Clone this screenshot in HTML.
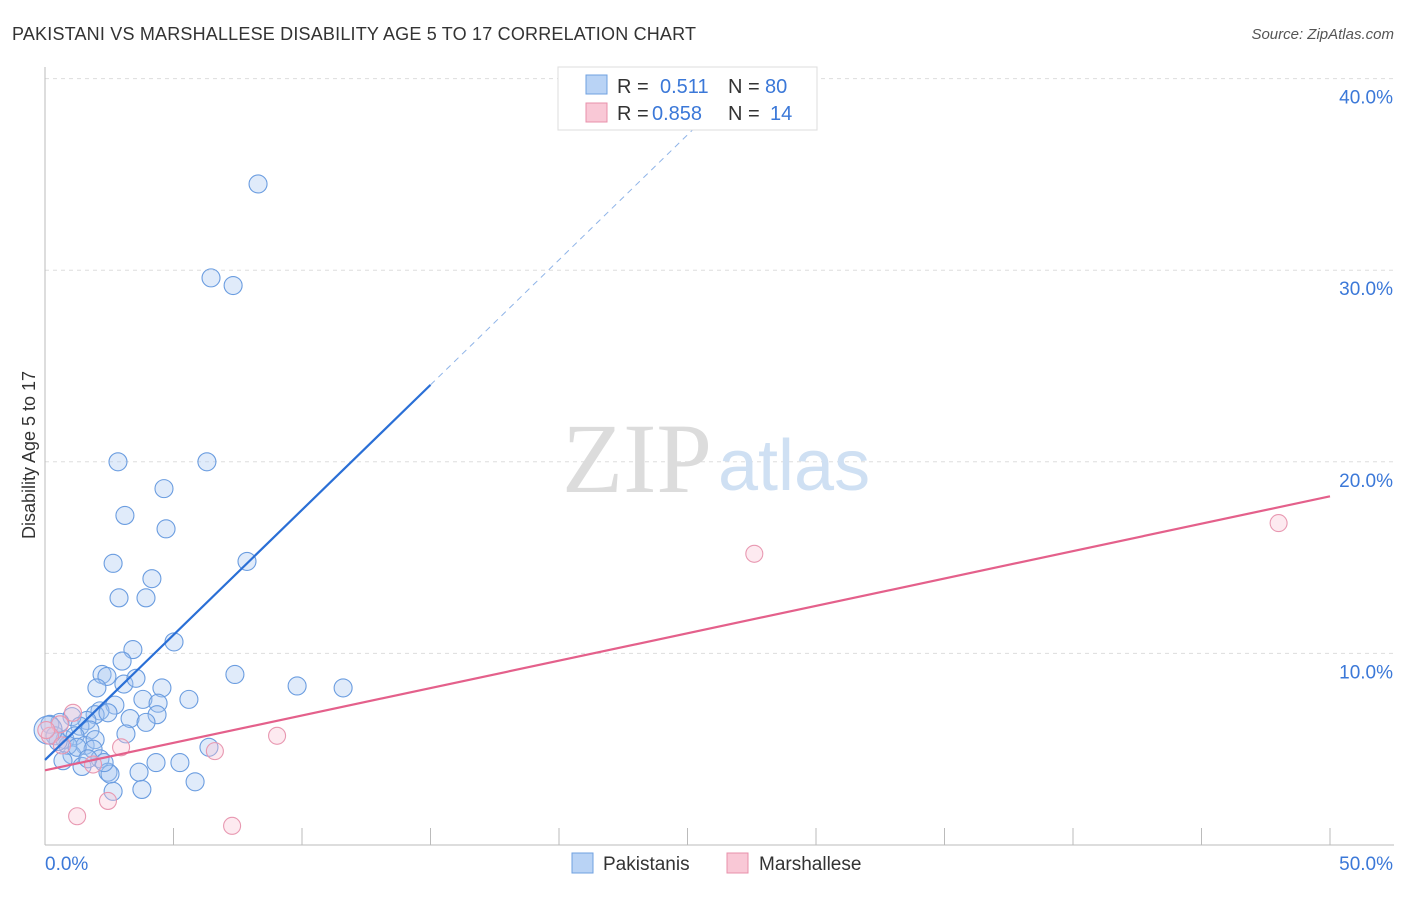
<!DOCTYPE html>
<html><head><meta charset="utf-8"><style>
body{margin:0;background:#fff;font-family:"Liberation Sans",sans-serif;}
svg text{font-family:"Liberation Sans",sans-serif;}
svg text.serif{font-family:"Liberation Serif",serif;}
</style></head><body>
<svg id="chart" width="1406" height="892" xmlns="http://www.w3.org/2000/svg">
<text x="12" y="40" font-size="18" fill="#333" textLength="684">PAKISTANI VS MARSHALLESE DISABILITY AGE 5 TO 17 CORRELATION CHART</text>
<text x="1394" y="39" font-size="15" fill="#555" text-anchor="end" font-style="italic">Source: ZipAtlas.com</text>
<g id="grid"></g>
<text x="712" y="492" font-size="100" fill="#dcdcdc" text-anchor="end" class="serif">ZIP</text>
<text x="718" y="490" font-size="72" fill="#cfe0f3">atlas</text>
<g id="marks"></g>
<text x="35" y="455" font-size="18" fill="#333" text-anchor="middle" transform="rotate(-90 35 455)">Disability Age 5 to 17</text>
<g>
<rect x="558" y="67" width="259" height="63" fill="#fff" stroke="#ddd"/>
<rect x="586" y="75" width="21" height="19" fill="#b9d3f5" stroke="#6fa0e0"/>
<rect x="586" y="103" width="21" height="19" fill="#f9c8d6" stroke="#e890ab"/>
<text x="617" y="93" font-size="20" fill="#333">R =</text><text x="660" y="93" font-size="20" fill="#3b78d8">0.511</text>
<text x="728" y="93" font-size="20" fill="#333">N =</text><text x="765" y="93" font-size="20" fill="#3b78d8">80</text>
<text x="617" y="120" font-size="20" fill="#333">R =</text><text x="652" y="120" font-size="20" fill="#3b78d8">0.858</text>
<text x="728" y="120" font-size="20" fill="#333">N =</text><text x="770" y="120" font-size="20" fill="#3b78d8">14</text>
</g>
<g>
<rect x="572" y="853" width="21" height="20" fill="#b9d3f5" stroke="#6fa0e0"/>
<text x="603" y="870" font-size="19" fill="#333">Pakistanis</text>
<rect x="727" y="853" width="21" height="20" fill="#f9c8d6" stroke="#e890ab"/>
<text x="759" y="870" font-size="19" fill="#333">Marshallese</text>
</g>
</svg>
<script>
const yTicks=[10,20,30,40];
const yTickLabels=["10.0%","20.0%","30.0%","40.0%"];
const xTickLabels=["0.0%","50.0%"];
const pakX=[8.29,6.46,7.32,2.84,6.30,4.63,3.11,4.71,2.65,7.86,4.16,2.88,3.93,5.02,3.42,3.00,2.22,2.41,7.39,9.81,11.6,2.02,3.07,3.54,4.55,5.60,3.81,4.40,2.72,2.14,1.95,2.45,3.31,4.36,3.93,3.15,1.63,1.05,1.36,1.75,0.58,0.19,0.39,0.78,1.17,1.56,1.95,1.87,1.05,2.14,0.89,0.51,1.44,2.45,2.53,3.66,4.32,5.25,6.38,2.65,3.77,5.84,0.70,2.30,0.12,1.25,1.67];
const pakY=[34.5,29.6,29.2,20.0,20.0,18.6,17.2,16.5,14.7,14.8,13.9,12.9,12.9,10.6,10.2,9.6,8.9,8.8,8.9,8.3,8.2,8.2,8.4,8.7,8.2,7.6,7.6,7.4,7.3,7.0,6.8,6.9,6.6,6.8,6.4,5.8,6.5,6.7,6.2,6.0,6.4,6.3,5.7,5.5,5.7,5.2,5.5,5.0,4.7,4.5,5.2,5.4,4.1,3.8,3.7,3.8,4.3,4.3,5.1,2.8,2.9,3.3,4.4,4.3,6.0,5.1,4.5];
const marX=[48.0,27.6,9.03,6.61,2.96,1.09,2.45,1.25,7.28,1.87,0.58,0.19,0.66,0.05];
const marY=[16.8,15.2,5.7,4.9,5.1,6.9,2.3,1.5,1.0,4.2,6.3,5.7,5.2,6.0];
const pakFit=[4.44,1.305]; // intercept, slope
const marFit=[3.9,0.286];
const X=v=>45+v*25.7, Y=v=>845-v*19.16;
const NS="http://www.w3.org/2000/svg";
function mk(t,a,p){const e=document.createElementNS(NS,t);for(const k in a)e.setAttribute(k,a[k]);p.appendChild(e);return e;}
const grid=document.getElementById('grid'), marks=document.getElementById('marks');
yTicks.forEach((t,i)=>{
 const g=mk('line',{x1:45,x2:1394,y1:Y(t),y2:Y(t),stroke:'#ddd','stroke-dasharray':'4,4'},grid);
 
 
 const l=mk('text',{x:1393,y:Y(t)+25,'font-size':19,fill:'#3b78d8','text-anchor':'end'},grid);
 l.textContent=yTickLabels[i];
 
 
});
const ax=mk('line',{x1:45,x2:1394,y1:845,y2:845,stroke:'#bbb'},grid);


const ay=mk('line',{x1:45,x2:45,y1:67,y2:845,stroke:'#bbb'},grid);


for(let i=1;i<=10;i++){const tk=mk('line',{x1:X(i*5),x2:X(i*5),y1:828,y2:845,stroke:'#bbb'},grid);
 
 }
[[0,'start',45],[50,'end',1393]].forEach((d,i)=>{const t=mk('text',{x:d[2],y:870,'font-size':19,fill:'#3b78d8','text-anchor':d[1]},grid);t.textContent=xTickLabels[i];
 
 });
pakX.forEach((x,i)=>{const c=mk('circle',{cx:X(x),cy:Y(pakY[i]),r:i==64?14:9,fill:'rgba(165,198,240,0.35)',stroke:'#6b9de0','stroke-width':1.1},marks);
 
 });
marX.forEach((x,i)=>{const c=mk('circle',{cx:X(x),cy:Y(marY[i]),r:8.5,fill:'rgba(248,195,212,0.35)',stroke:'#e898b1','stroke-width':1.1},marks);
 
 });
const f=(p,x)=>p[0]+p[1]*x;
const l1=mk('line',{x1:X(0),y1:Y(f(pakFit,0)),x2:X(15),y2:Y(f(pakFit,15)),stroke:'#2a6fd6','stroke-width':2.2},marks);


const xe=(39.8-pakFit[0])/pakFit[1];
const l2=mk('line',{x1:X(15),y1:Y(f(pakFit,15)),x2:X(xe),y2:Y(f(pakFit,xe)),stroke:'#8fb4e8','stroke-width':1,'stroke-dasharray':'6,5'},marks);


const l3=mk('line',{x1:X(0),y1:Y(f(marFit,0)),x2:X(50),y2:Y(f(marFit,50)),stroke:'#e4608b','stroke-width':2.2},marks);


</script>
</body></html>
